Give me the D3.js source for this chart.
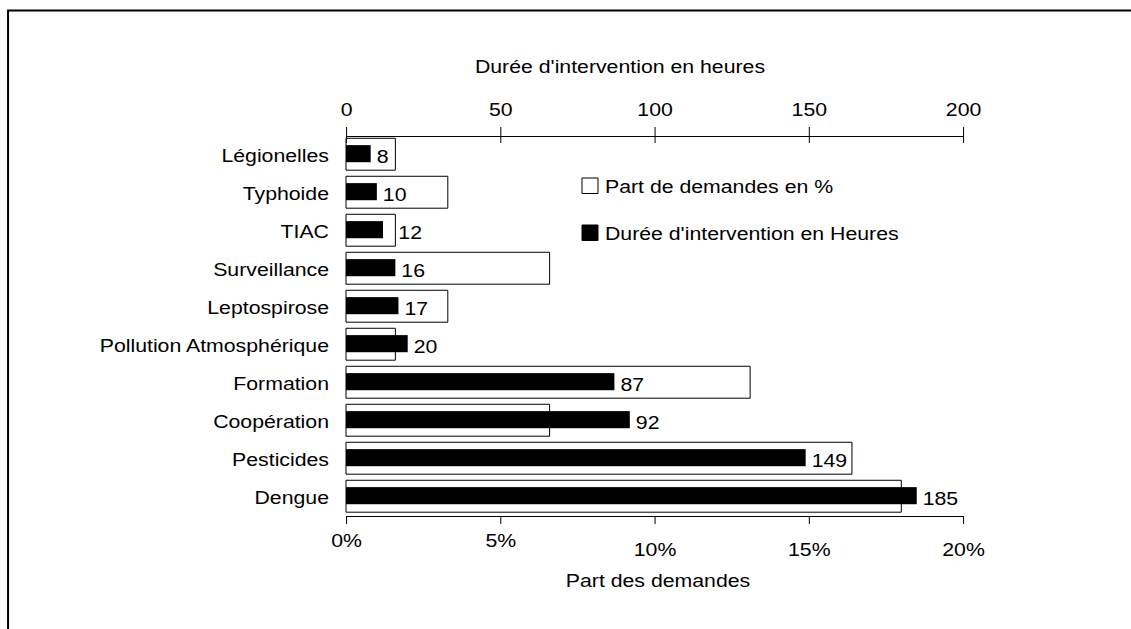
<!DOCTYPE html>
<html>
<head>
<meta charset="utf-8">
<script src="https://cdn.jsdelivr.net/npm/d3@7"></script>
<style>
  html, body { margin: 0; padding: 0; background: #fff; }
  svg { display: block; }
  text { font-family: "Liberation Sans", Arial, sans-serif; font-size: 18.5px; fill: #000; }
  .axis path, .axis line, rect { vector-effect: non-scaling-stroke; }
</style>
</head>
<body>
<svg id="chart"></svg>
<script>
// values
var categories = ["Légionelles", "Typhoide", "TIAC", "Surveillance", "Leptospirose",
                  "Pollution Atmosphérique", "Formation", "Coopération", "Pesticides", "Dengue"];
var partDemandes = [1.6, 3.3, 1.6, 6.6, 3.3, 1.6, 13.1, 6.6, 16.4, 18.0];   // %
var dureeHeures = [8, 10, 12, 16, 17, 20, 87, 92, 149, 185];              // heures
var hoursTicks = [0, 50, 100, 150, 200];
var pctTicks = [0, 5, 10, 15, 20];

// the original is a little stretched sideways, so draw in a narrower box and stretch it
var SX = 1.15;
var W = 1131 / SX, H = 629;

var svg = d3.select("#chart")
    .attr("width", 1131).attr("height", 629)
    .attr("viewBox", "0 0 " + W + " " + H)
    .attr("preserveAspectRatio", "none");

var plotLeft = 346 / SX, plotRight = 963 / SX, plotTop = 136, plotBottom = 516;

var xHours = d3.scaleLinear().domain([0, 200]).range([plotLeft, plotRight]),
    xPct = d3.scaleLinear().domain([0, 20]).range([plotLeft, plotRight]),
    y = d3.scaleBand().domain(categories).range([plotTop, plotBottom]);

var step = y.step();

// outer frame (runs off the right and bottom edges)
svg.append("rect")
    .attr("x", 7).attr("y", 10.5)
    .attr("width", W + 20).attr("height", H + 20)
    .attr("fill", "none").attr("stroke", "#000").attr("stroke-width", 2);

// white boxes: share of requests
svg.selectAll(".box")
    .data(partDemandes)
  .enter().append("rect")
    .attr("class", "box")
    .attr("x", xPct(0))
    .attr("y", function(d, i) { return y(categories[i]) + step * 0.06; })
    .attr("width", function(d) { return xPct(d) - xPct(0); })
    .attr("height", step * 0.84)
    .attr("fill", "#fff").attr("stroke", "#000").attr("stroke-width", 1);

// black bars: hours
svg.selectAll(".bar")
    .data(dureeHeures)
  .enter().append("rect")
    .attr("class", "bar")
    .attr("x", xHours(0))
    .attr("y", function(d, i) { return y(categories[i]) + step * 0.24; })
    .attr("width", function(d) { return xHours(d) - xHours(0); })
    .attr("height", step * 0.45)
    .attr("fill", "#000");

// value labels, pushed past the box edge when they would sit on it
svg.selectAll(".lbl")
    .data(dureeHeures)
  .enter().append("text")
    .attr("class", "lbl")
    .attr("x", function(d) { return xHours(d) + 6 / SX; })
    .attr("y", function(d, i) { return y(categories[i]) + step / 2 + 8.5; })
    .text(function(d) { return d; })
    .each(function(d, i) {
      var t = d3.select(this),
          x0 = +t.attr("x"),
          w = this.getComputedTextLength(),
          edge = xPct(partDemandes[i]);
      if (edge > x0 - 2 && edge < x0 + w + 2) t.attr("x", edge + 3 / SX);
    });

// category labels
svg.selectAll(".cat")
    .data(categories)
  .enter().append("text")
    .attr("class", "cat")
    .attr("x", 329 / SX)
    .attr("y", function(d) { return y(d) + step / 2 + 7; })
    .attr("text-anchor", "end")
    .text(function(d) { return d; });

// top axis (hours)
var topAxis = svg.append("g")
    .attr("class", "axis")
    .attr("transform", "translate(0," + plotTop + ")")
    .call(d3.axisTop(xHours).tickValues(hoursTicks).tickSizeInner(9).tickSizeOuter(0).tickPadding(11));
topAxis.selectAll(".tick line").clone().attr("y2", 7);

// bottom axis (percent)
var botAxis = svg.append("g")
    .attr("class", "axis")
    .attr("transform", "translate(0," + plotBottom + ")")
    .call(d3.axisBottom(xPct).tickValues(pctTicks).tickSizeInner(8).tickSizeOuter(0).tickPadding(0)
      .tickFormat(function(d) { return d + "%"; }));
botAxis.selectAll("text")
    .attr("dy", null)
    .attr("y", function(d, i) { return i < 2 ? 31 : 40.5; });

svg.selectAll(".axis").attr("font-family", null).attr("font-size", null);
svg.selectAll(".axis path, .axis line").attr("stroke", "#000");

// axis titles
svg.append("text")
    .attr("x", 620 / SX).attr("y", 73)
    .attr("text-anchor", "middle")
    .text("Durée d'intervention en heures");

svg.append("text")
    .attr("x", 658 / SX).attr("y", 587)
    .attr("text-anchor", "middle")
    .text("Part des demandes");

// legend
var legend = [
  {label: "Part de demandes en %", fill: "#fff", y: 178},
  {label: "Durée d'intervention en Heures", fill: "#000", y: 225}
];
var lg = svg.selectAll(".leg")
    .data(legend)
  .enter().append("g")
    .attr("class", "leg");
lg.append("rect")
    .attr("x", 582 / SX).attr("y", function(d) { return d.y; })
    .attr("width", 16 / SX).attr("height", 15.5)
    .attr("fill", function(d) { return d.fill; })
    .attr("stroke", "#000").attr("stroke-width", 1);
lg.append("text")
    .attr("x", 605 / SX).attr("y", function(d) { return d.y + 15.5; })
    .text(function(d) { return d.label; });
</script>
</body>
</html>
